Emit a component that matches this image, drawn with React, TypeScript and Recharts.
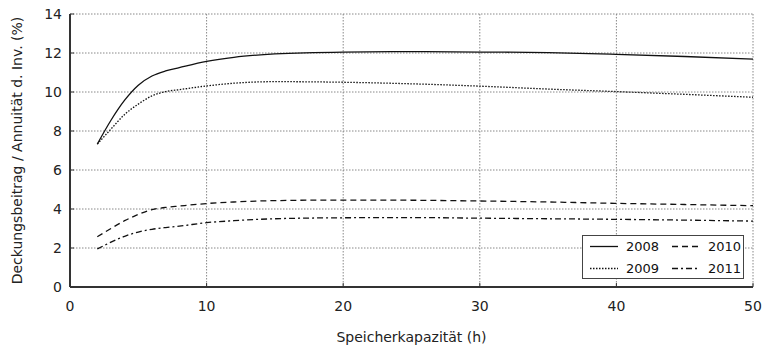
import { LineChart, Line, XAxis, YAxis, CartesianGrid, Legend } from 'recharts'

const hours = [2, 3, 4, 5, 6, 7, 8, 10, 12, 15, 20, 25, 30, 35, 40, 45, 50]
const y2008 = [7.33, 8.55, 9.58, 10.35, 10.82, 11.08, 11.25, 11.57, 11.78, 11.95, 12.05, 12.07, 12.05, 12.02, 11.93, 11.82, 11.69]
const y2009 = [7.33, 8.1, 8.85, 9.38, 9.8, 10.02, 10.12, 10.31, 10.45, 10.53, 10.5, 10.42, 10.3, 10.15, 10.02, 9.88, 9.73]
const y2010 = [2.58, 3.0, 3.4, 3.72, 3.97, 4.08, 4.15, 4.28, 4.36, 4.43, 4.46, 4.45, 4.41, 4.36, 4.29, 4.23, 4.17]
const y2011 = [1.95, 2.3, 2.6, 2.82, 2.96, 3.05, 3.12, 3.3, 3.4, 3.5, 3.55, 3.56, 3.53, 3.5, 3.47, 3.43, 3.38]

const xTicks = [0, 10, 20, 30, 40, 50]
const yTicks = [0, 2, 4, 6, 8, 10, 12, 14]

const series = [
  { key: 'y2008', name: '2008', dash: undefined },
  { key: 'y2009', name: '2009', dash: '1.5 1.5' },
  { key: 'y2010', name: '2010', dash: '6 4' },
  { key: 'y2011', name: '2011', dash: '6 3 2 3' },
]

const data = hours.map((h, i) => ({
  h,
  y2008: y2008[i],
  y2009: y2009[i],
  y2010: y2010[i],
  y2011: y2011[i],
}))

const font = '"DejaVu Sans", Verdana, sans-serif'

function LegendBox() {
  // two columns: 2008 / 2009 left, 2010 / 2011 right
  const order = [series[0], series[2], series[1], series[3]]
  return (
    <svg width={162} height={44} style={{ display: 'block' }}>
      <rect x={0.5} y={0.5} width={161} height={43} fill="#fff" stroke="#444" />
      {order.map((s, i) => {
        const col = i % 2
        const row = Math.floor(i / 2)
        const x0 = 8 + col * 82
        const yc = 11.5 + row * 22
        return (
          <g key={s.key}>
            <line x1={x0} x2={x0 + 28} y1={yc} y2={yc} stroke="#111" strokeWidth={1.3} strokeDasharray={s.dash} />
            <text x={x0 + 36} y={yc + 4.5} fontSize={13} fontFamily={font} fill="#111">{s.name}</text>
          </g>
        )
      })}
    </svg>
  )
}

export default function App() {
  return (
    <div style={{ position: 'absolute', left: 0, top: 0, background: '#fff' }}>
      <LineChart width={771} height={349} data={data} margin={{ top: 14, right: 18, left: 30, bottom: 32 }}>
        <CartesianGrid stroke="#888" strokeDasharray="1.5 1.5" />
        <XAxis
          dataKey="h"
          type="number"
          domain={[0, 50]}
          ticks={xTicks}
          height={30}
          tickSize={-4}
          tickMargin={18}
          tick={{ fill: '#222', fontSize: 14, fontFamily: font }}
          axisLine={{ stroke: '#333', strokeWidth: 2 }}
          tickLine={{ stroke: '#333' }}
          label={{
            content: (props: any) => {
              const vb = props.viewBox
              return (
                <text x={vb.x + vb.width / 2} y={vb.y + 55} textAnchor="middle" fontSize={14} fontFamily={font} fill="#222">
                  Speicherkapazität (h)
                </text>
              )
            },
          }}
        />
        <YAxis
          type="number"
          domain={[0, 14]}
          ticks={yTicks}
          width={40}
          tickSize={-4}
          tickMargin={12}
          tick={{ fill: '#222', fontSize: 14, fontFamily: font }}
          axisLine={{ stroke: '#333', strokeWidth: 2 }}
          tickLine={{ stroke: '#333' }}
          label={{
            content: (props: any) => {
              const vb = props.viewBox
              const cx = vb.x - 13
              const cy = vb.y + vb.height / 2
              return (
                <text x={cx} y={cy} transform={`rotate(-90 ${cx} ${cy})`} textAnchor="middle" dominantBaseline="central" fontSize={14} fontFamily={font} fill="#222">
                  Deckungsbeitrag / Annuität d. Inv. (%)
                </text>
              )
            },
          }}
        />
        {series.map((s) => (
          <Line
            key={s.key}
            dataKey={s.key}
            name={s.name}
            type="monotone"
            stroke="#111"
            strokeWidth={1.3}
            strokeDasharray={s.dash}
            dot={false}
            isAnimationActive={false}
          />
        ))}
        <Legend
          layout="horizontal"
          verticalAlign="middle"
          align="center"
          content={() => <LegendBox />}
          wrapperStyle={{ left: 582, top: 235, width: 162, height: 44 }}
        />
      </LineChart>
    </div>
  )
}
